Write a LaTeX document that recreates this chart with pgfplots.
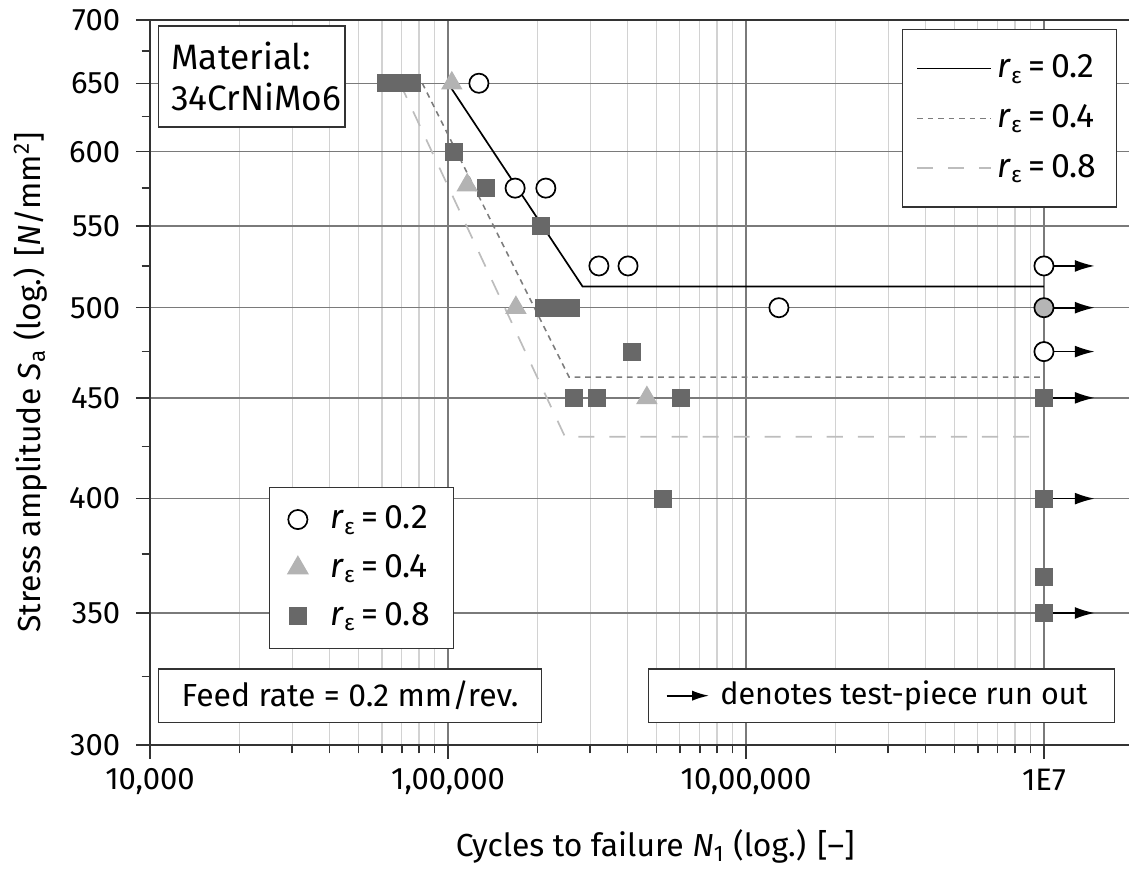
\documentclass[border=0pt]{standalone}
\usepackage{fontspec}
\setmainfont{Fira Sans}
\usepackage{pgfplots}
\pgfplotsset{compat=1.18}
\usetikzlibrary{arrows.meta}

\definecolor{axisc}{HTML}{333333}
\definecolor{gmaj}{HTML}{7A7A7A}
\definecolor{gmin}{HTML}{D2D2D2}
\definecolor{sqc}{HTML}{686868}
\definecolor{tric}{HTML}{B3B3B3}
\definecolor{fillc}{HTML}{B5B5B5}
\definecolor{lfour}{HTML}{7C7C7C}
\definecolor{leight}{HTML}{BDBDBD}

\newcommand{\reps}[1]{\textit{r}\textsubscript{ε}\,=\,#1}
\tikzset{runout/.style={black,line width=0.6pt,-{Latex[length=7pt,width=4.2pt]}}}

\begin{document}
\begin{tikzpicture}[font=\fontsize{11.3}{13.5}\selectfont]
\begin{axis}[scale only axis,width=346.9pt,height=256.9pt,
  xmode=log,ymode=log,xmin=1e4,xmax=1.93e7,ymin=300,ymax=700,
  axis x line=box, axis y line=left,
  axis line style={-,axisc,line width=0.6pt},
  xtick pos=left,
  tick align=outside, tick style={axisc,line width=0.5pt},
  major tick length=5pt, minor tick length=3pt,
  tick label style={font=\fontsize{11}{13}\selectfont},
  xtick={1e4,1e5,1e6,1e7},
  xticklabels={{10,000},{1,00,000},{10,00,000},1E7},
  minor xtick={2e4,3e4,4e4,5e4,6e4,7e4,8e4,9e4,2e5,3e5,4e5,5e5,6e5,7e5,8e5,9e5,2e6,3e6,4e6,5e6,6e6,7e6,8e6,9e6},
  ytick={300,350,400,450,500,550,600,650,700},
  yticklabels={300,350,400,450,500,550,600,650,700},
  minor ytick={325,375,425,475,525,575,625,675},
  yticklabel style={xshift=-2pt},
  xmajorgrids, xminorgrids, ymajorgrids,
  major grid style={gmaj,line width=0.5pt},
  minor grid style={gmin,line width=0.45pt},
  ylabel style={at={(rel axis cs:0,0.5)},anchor=center,yshift=42.5pt},
  xlabel style={at={(rel axis cs:0.516,0)},anchor=center,yshift=-36pt},
  ylabel={Stress amplitude \textit{S}\textsubscript{a} (log.) [\textit{N}/mm\textsuperscript{2}]},
  xlabel={Cycles to failure \textit{N}\textsubscript{1} (log.) [–]},
  legend style={at={(rel axis cs:0.9877,0.9876)},anchor=north east,draw=axisc,fill=white,
    line width=0.5pt,inner xsep=5pt,inner ysep=7pt,row sep=4pt,
    font=\fontsize{12}{14}\selectfont},
  legend cell align=left,
  legend image code/.code={\draw[#1] (0pt,0pt) -- (26pt,0pt);},
]
% S-N curves
\addplot[black,line width=0.6pt] coordinates {(1e5,650)(2.83e5,512.5)(1e7,512.5)};
\addlegendentry{\reps{0.2}}
\addplot[lfour,line width=0.55pt,dash pattern=on 2pt off 1.7pt] coordinates {(8.2e4,650)(2.55e5,461)(1e7,461)};
\addlegendentry{\reps{0.4}}
\addplot[leight,line width=0.6pt,dash pattern=on 5.7pt off 5.3pt] coordinates {(6.9e4,650)(2.47e5,430)(1e7,430)};
\addlegendentry{\reps{0.8}}

% run-out arrows
\addplot[forget plot,runout] coordinates {(1e7,525)(1.48e7,525)};
\addplot[forget plot,runout] coordinates {(1e7,500)(1.48e7,500)};
\addplot[forget plot,runout] coordinates {(1e7,475)(1.48e7,475)};
\addplot[forget plot,runout] coordinates {(1e7,450)(1.48e7,450)};
\addplot[forget plot,runout] coordinates {(1e7,400)(1.48e7,400)};
\addplot[forget plot,runout] coordinates {(1e7,350)(1.48e7,350)};

% r = 0.8
\addplot[forget plot,only marks,mark=square*,mark size=3pt,mark options={draw=sqc,fill=sqc}] table {
x y
6.2e4 650
6.6e4 650
7.1e4 650
7.6e4 650
1.05e5 600
1.34e5 575
2.05e5 550
2.1e5 500
2.25e5 500
2.4e5 500
2.58e5 500
4.14e5 475
2.65e5 450
3.17e5 450
6.05e5 450
5.27e5 400
1e7 450
1e7 400
1e7 365
1e7 350
};
% r = 0.4
\addplot[forget plot,only marks,mark=triangle*,mark size=4pt,mark options={draw=tric,fill=tric}] table {
x y
1.03e5 650
1.16e5 577
1.69e5 500
4.65e5 450
};
% r = 0.2
\addplot[forget plot,only marks,mark=*,mark size=3.4pt,mark options={draw=black,fill=white,line width=0.6pt}] table {
x y
1.27e5 650
1.68e5 575
2.13e5 575
3.21e5 525
4.02e5 525
1.29e6 500
1e7 525
1e7 475
};
\addplot[forget plot,only marks,mark=*,mark size=3.4pt,mark options={draw=black,fill=fillc,line width=0.6pt}] table {
x y
1e7 500
};
\end{axis}

\begin{axis}[scale only axis,width=346.9pt,height=256.9pt,
  xmin=0,xmax=1,ymin=0,ymax=1,hide axis,
  legend style={at={(rel axis cs:0.1216,0.3559)},anchor=north west,draw=axisc,fill=white,
    line width=0.5pt,inner xsep=6.5pt,inner ysep=4.5pt,row sep=3.5pt,
    font=\fontsize{12}{14}\selectfont},
  legend cell align=left,
  legend image code/.code={\path[draw=none,fill=none] (-2.5pt,0pt) -- (9.5pt,0pt);\draw[#1] plot coordinates {(0pt,0pt)};},
]
\addlegendimage{only marks,mark=*,mark size=3.4pt,mark options={draw=black,fill=white,line width=0.6pt}}
\addlegendentry{\reps{0.2}}
\addlegendimage{only marks,mark=triangle*,mark size=4pt,mark options={draw=tric,fill=tric}}
\addlegendentry{\reps{0.4}}
\addlegendimage{only marks,mark=square*,mark size=3pt,mark options={draw=sqc,fill=sqc}}
\addlegendentry{\reps{0.8}}
\end{axis}

\node[draw=axisc,fill=white,line width=0.5pt,anchor=north west,align=left,text width=57pt,
  inner xsep=4.5pt,minimum height=35.8pt,font=\fontsize{12.5}{14.5}\selectfont]
  at (2.83pt,254.96pt) {Material:\\34CrNiMo6};
\node[draw=axisc,fill=white,line width=0.5pt,anchor=south west,minimum width=135.7pt,minimum height=18.8pt]
  at (2.83pt,7.79pt) {Feed rate = 0.2 mm/rev.};
\node[draw=axisc,fill=white,line width=0.5pt,anchor=south west,minimum height=18.8pt,
  minimum width=165.1pt] (runbox) at (176.4pt,7.79pt) {};
\draw[black,line width=0.6pt,-{Latex[length=6pt,width=3.6pt]}] ([xshift=6.7pt]runbox.west) -- ++(15pt,0);
\node[anchor=west,inner xsep=0pt,font=\fontsize{10.8}{13}\selectfont] at ([xshift=25.5pt]runbox.west) {denotes test-piece run out};
\pgfresetboundingbox
\path[use as bounding box] (-53.15pt,-44.29pt) rectangle (346.9pt,263.95pt);
\end{tikzpicture}
\end{document}
